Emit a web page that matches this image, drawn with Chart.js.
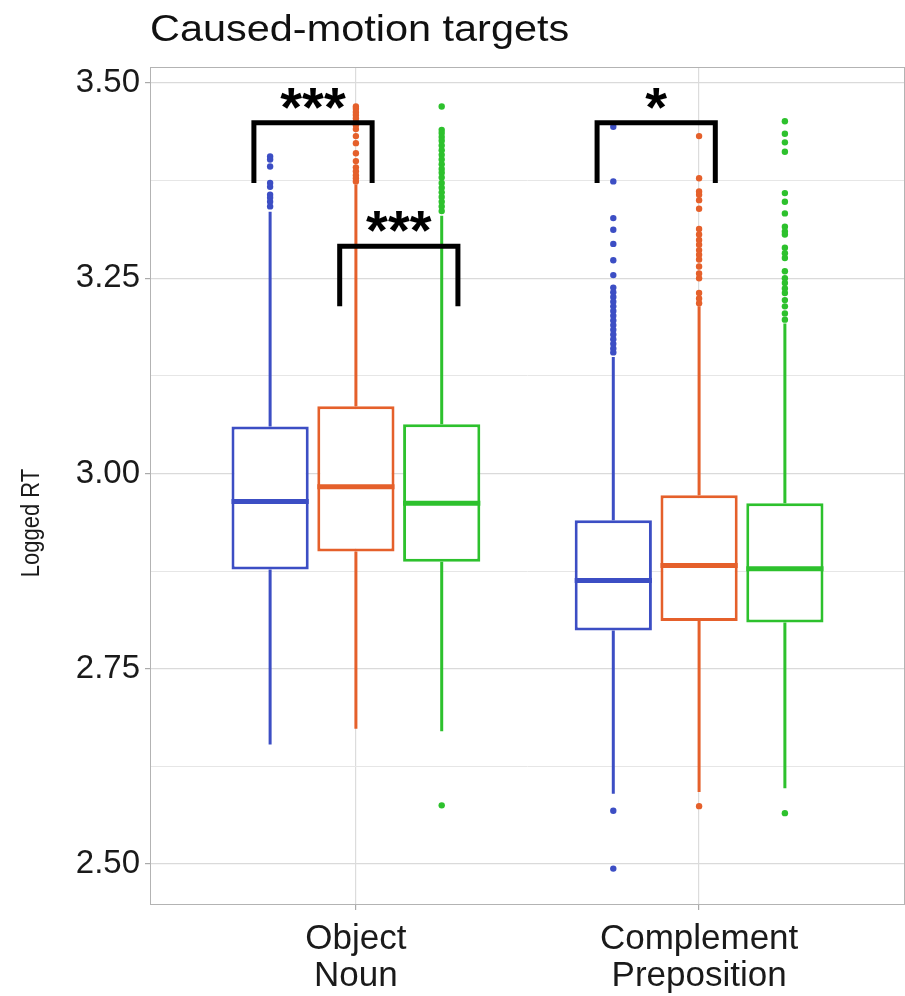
<!DOCTYPE html>
<html>
<head>
<meta charset="utf-8">
<script src="https://cdn.jsdelivr.net/npm/chart.js@4.4.1/dist/chart.umd.min.js"></script>
<style>
  html, body { margin: 0; padding: 0; background: #fff; }
  #wrap { width: 905px; height: 996px; }
</style>
</head>
<body>
<div id="wrap"><canvas id="grafico"></canvas></div>
<script>
const categories = [['Object', 'Noun'], ['Complement', 'Preposition']];
const series = ['Group 1', 'Group 2', 'Group 3'];
const colors = ['#3c4ec4', '#e5602b', '#2dc12d'];

// [series][category]
const q1 = [[2.877, 2.799], [2.900, 2.811], [2.887, 2.809]];
const median = [[2.964, 2.863], [2.983, 2.882], [2.962, 2.878]];
const q3 = [[3.060, 2.940], [3.086, 2.972], [3.063, 2.962]];
const whiskerLow = [[2.653, 2.590], [2.673, 2.592], [2.670, 2.597]];
const whiskerHigh = [[3.335, 3.149], [3.370, 3.214], [3.330, 3.192]];

const outliersBlue = [
    [3.406, 3.402, 3.393, 3.372, 3.367, 3.357, 3.353, 3.348, 3.342],
    [3.444, 3.374, 3.327, 3.312, 3.294, 3.273, 3.254, 3.238, 3.232, 3.226, 3.220, 3.214,
     3.208, 3.202, 3.196, 3.190, 3.184, 3.178, 3.172, 3.166, 3.160, 3.155, 2.568, 2.494]
];
const outliersOrange = [
    [3.470, 3.467, 3.463, 3.459, 3.455, 3.450, 3.446, 3.441, 3.432, 3.423, 3.410, 3.400,
     3.392, 3.387, 3.382, 3.378, 3.374],
    [3.432, 3.378, 3.361, 3.357, 3.350, 3.339, 3.313, 3.306, 3.299, 3.293, 3.286, 3.280,
     3.274, 3.265, 3.256, 3.250, 3.231, 3.224, 3.218, 2.574]
];
const outliersGreen = [
    [3.470, 3.440, 3.436, 3.431, 3.426, 3.420, 3.414, 3.408, 3.402, 3.396, 3.390, 3.385,
     3.379, 3.372, 3.366, 3.360, 3.354, 3.348, 3.342, 3.336, 2.575],
    [3.451, 3.435, 3.424, 3.412, 3.359, 3.348, 3.333, 3.316, 3.310, 3.306, 3.289, 3.282,
     3.276, 3.259, 3.250, 3.244, 3.237, 3.231, 3.222, 3.214, 3.205, 3.197, 2.565]
];
const outliers = [outliersBlue, outliersOrange, outliersGreen];

const majorTicks = [2.5, 2.75, 3.0, 3.25, 3.5];
const minorTicks = [2.625, 2.875, 3.125, 3.375];

// significance brackets: category, [from series, to series], top, leg end, label
const bracketCat = [0, 0, 1];
const bracketPair = [[0, 1], [1, 2], [0, 1]];
const bracketTop = [3.449, 3.291, 3.449];
const bracketLeg = [3.372, 3.214, 3.372];
const bracketLabel = ['***', '***', '*'];

const chartTitle = 'Caused-motion targets';
const yTitle = 'Logged RT';

const FONT = "'Liberation Sans', Arial, sans-serif";

const boxExtras = {
    id: 'boxExtras',
    beforeDatasetsDraw(chart) {
        const ctx = chart.ctx;
        const y = chart.scales.y;
        chart.data.datasets.forEach((ds, s) => {
            chart.getDatasetMeta(s).data.forEach((bar, i) => {
                ctx.save();
                ctx.strokeStyle = colors[s];
                ctx.lineWidth = 3;
                ctx.beginPath();
                ctx.moveTo(bar.x, y.getPixelForValue(q3[s][i]));
                ctx.lineTo(bar.x, y.getPixelForValue(whiskerHigh[s][i]));
                ctx.moveTo(bar.x, y.getPixelForValue(q1[s][i]));
                ctx.lineTo(bar.x, y.getPixelForValue(whiskerLow[s][i]));
                ctx.stroke();
                ctx.restore();
            });
        });
    },
    afterDatasetsDraw(chart) {
        const ctx = chart.ctx;
        const y = chart.scales.y;
        chart.data.datasets.forEach((ds, s) => {
            chart.getDatasetMeta(s).data.forEach((bar, i) => {
                ctx.save();
                // median
                ctx.strokeStyle = colors[s];
                ctx.lineWidth = 5;
                ctx.beginPath();
                const ym = y.getPixelForValue(median[s][i]);
                ctx.moveTo(bar.x - bar.width / 2, ym);
                ctx.lineTo(bar.x + bar.width / 2, ym);
                ctx.stroke();
                // outliers
                ctx.fillStyle = colors[s];
                outliers[s][i].forEach(v => {
                    ctx.beginPath();
                    ctx.arc(bar.x, y.getPixelForValue(v), 3.2, 0, Math.PI * 2);
                    ctx.fill();
                });
                ctx.restore();
            });
        });
    },
    afterDraw(chart) {
        const ctx = chart.ctx;
        const a = chart.chartArea;
        const y = chart.scales.y;
        ctx.save();
        ctx.strokeStyle = '#b3b3b3';
        ctx.lineWidth = 1;
        ctx.strokeRect(a.left + 0.5, a.top + 0.5, a.right - a.left - 1, a.bottom - a.top - 1);

        // brackets
        ctx.strokeStyle = '#000';
        ctx.fillStyle = '#000';
        ctx.lineWidth = 5;
        ctx.lineJoin = 'miter';
        ctx.font = 'bold 56px ' + FONT;
        ctx.textAlign = 'center';
        ctx.textBaseline = 'alphabetic';
        bracketCat.forEach((c, k) => {
            const b1 = chart.getDatasetMeta(bracketPair[k][0]).data[c];
            const b2 = chart.getDatasetMeta(bracketPair[k][1]).data[c];
            const pad = b1.width * 0.21;
            const x1 = b1.x - pad, x2 = b2.x + pad;
            const yt = y.getPixelForValue(bracketTop[k]);
            const yl = y.getPixelForValue(bracketLeg[k]);
            ctx.beginPath();
            ctx.moveTo(x1, yl);
            ctx.lineTo(x1, yt);
            ctx.lineTo(x2, yt);
            ctx.lineTo(x2, yl);
            ctx.stroke();
            ctx.fillText(bracketLabel[k], (x1 + x2) / 2, yt + 56 * 0.57 - 29);
        });
        ctx.restore();

        // chart title, slightly wide like the source image
        ctx.save();
        ctx.fillStyle = '#111';
        ctx.font = '37px ' + FONT;
        ctx.textAlign = 'left';
        ctx.textBaseline = 'alphabetic';
        ctx.translate(a.left, 41);
        ctx.scale(1.12, 1);
        ctx.fillText(chartTitle, 0, 0);
        ctx.restore();

        // y axis title
        ctx.save();
        ctx.fillStyle = '#1a1a1a';
        ctx.font = '22px ' + FONT;
        ctx.textAlign = 'center';
        ctx.textBaseline = 'middle';
        ctx.translate(32, 523);
        ctx.rotate(-Math.PI / 2);
        ctx.scale(1, 1.2);
        ctx.fillText(yTitle, 0, 0);
        ctx.restore();
    }
};

const ctx = document.getElementById('grafico');
const chart = new Chart(ctx, {
    type: 'bar',
    data: {
        datasets: series.map((name, s) => ({
            label: name,
            data: categories.map((c, i) => ({ x: i + 1, y: [q1[s][i], q3[s][i]] })),
            backgroundColor: '#ffffff',
            borderColor: colors[s],
            borderWidth: 3,
            borderSkipped: false,
            categoryPercentage: 0.75,
            barPercentage: 0.9
        }))
    },
    options: {
        responsive: true,
        maintainAspectRatio: false,
        animation: false,
        layout: { padding: { left: 0, right: 0, top: 67, bottom: 0 } },
        plugins: {
            legend: { display: false },
            tooltip: { enabled: false },
            title: { display: false }
        },
        scales: {
            x: {
                type: 'linear',
                min: 0.4,
                max: 2.6,
                offset: false,
                afterBuildTicks: s => { s.ticks = categories.map((c, i) => ({ value: i + 1 })); },
                afterFit: s => { s.height = 91; },
                ticks: {
                    callback: v => categories[v - 1],
                    autoSkip: false,
                    maxRotation: 0,
                    padding: 10,
                    color: '#1a1a1a',
                    font: { family: FONT, size: 35, lineHeight: 1.08 }
                },
                grid: { offset: false, color: '#dcdcdc', lineWidth: 1.2, tickColor: '#aaa', tickLength: 5 },
                border: { display: false }
            },
            y: {
                min: 2.4474,
                max: 3.5205,
                afterBuildTicks: s => {
                    s.ticks = majorTicks.concat(minorTicks).sort((a, b) => a - b).map(v => ({ value: v }));
                },
                afterFit: s => { s.width = 150; },
                ticks: {
                    callback: v => majorTicks.includes(v) ? v.toFixed(2) : '',
                    autoSkip: false,
                    padding: 5,
                    color: '#1a1a1a',
                    font: { family: FONT, size: 33 }
                },
                grid: {
                    color: c => majorTicks.includes(c.tick.value) ? '#dadada' : '#e6e6e6',
                    lineWidth: c => majorTicks.includes(c.tick.value) ? 1.2 : 1,
                    tickColor: c => majorTicks.includes(c.tick.value) ? '#aaa' : 'rgba(0,0,0,0)',
                    tickLength: 5
                },
                border: { display: false }
            }
        }
    },
    plugins: [boxExtras]
});
</script>
</body>
</html>
